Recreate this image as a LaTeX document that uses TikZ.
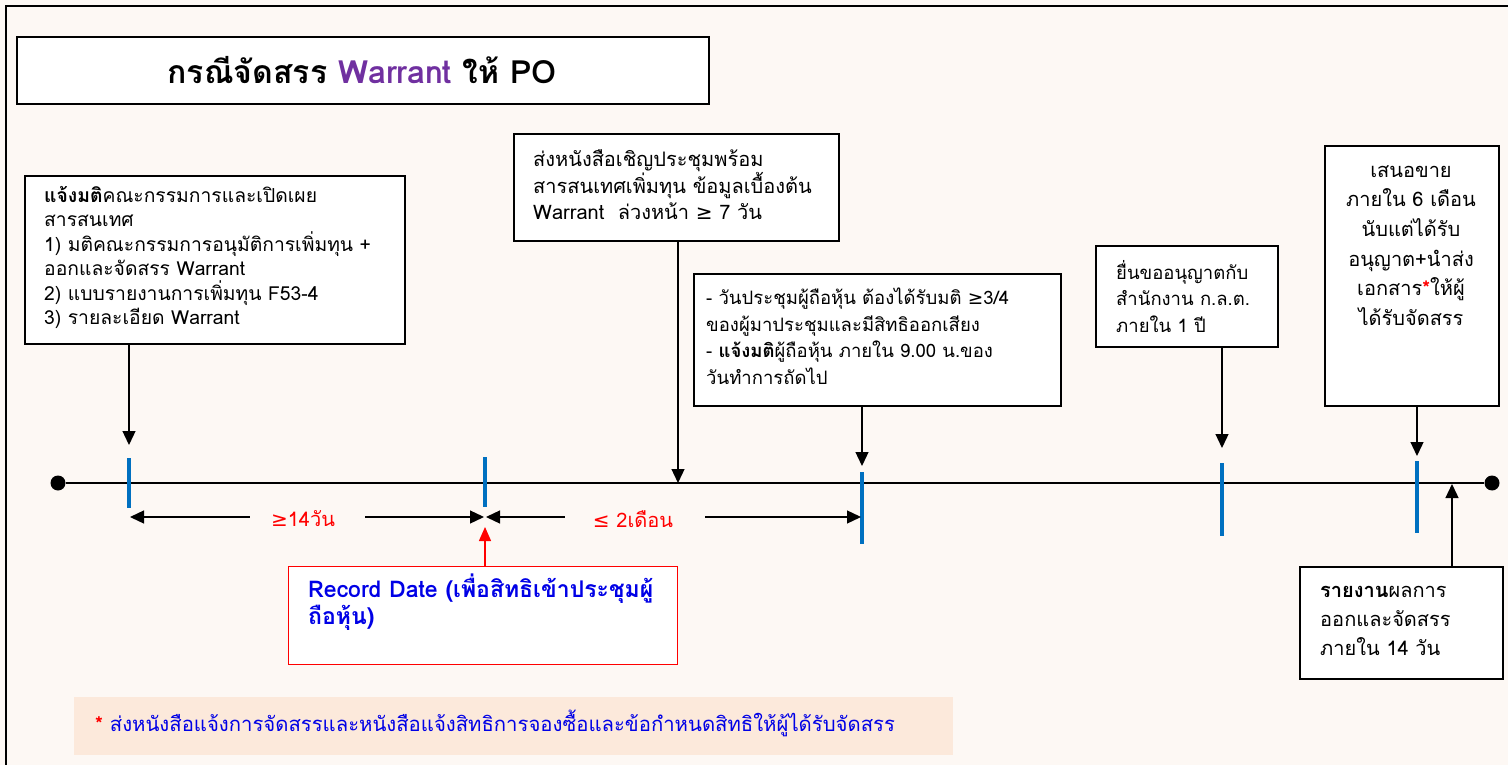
\documentclass[tikz,border=0pt]{standalone}
\usepackage{fontspec}
\setmainfont[Script=Thai]{Loma}
\newfontfamily\symf{DejaVu Sans}
\usetikzlibrary{arrows.meta}
\definecolor{bgc}{RGB}{253,248,244}
\definecolor{peach}{RGB}{252,233,219}
\definecolor{tickblue}{RGB}{0,112,192}
\definecolor{purp}{RGB}{112,48,160}
\definecolor{tblue}{RGB}{0,0,230}
\tikzset{
  box/.style={draw=black, line width=1.6pt, fill=white, anchor=north west, inner sep=0pt},
  txt/.style={anchor=north west, align=left, inner sep=0pt},
  tick/.style={draw=tickblue, line width=3.5pt},
  arr/.style={line width=1.3pt, -{Triangle[length=14pt,width=13pt]}},
  dim/.style={line width=1.3pt},
  dot/.style={circle, fill=black, minimum size=15pt, inner sep=0pt},
}
\begin{document}
\begin{tikzpicture}[x=1pt,y=-1pt]
\useasboundingbox (0,0) rectangle (1508,765);
\fill[bgc] (0,0) rectangle (1508,765);
\draw[line width=2pt] (6,780) -- (6,6) -- (1520,6);
% title
\node[box, minimum width=692pt, minimum height=67pt] (title) at (16,36) {};
\node[font=\fontsize{32}{36}\selectfont\bfseries, inner sep=0pt] (titletext) at (362,70) {กรณีจัดสรร \textcolor{purp}{Warrant} ให้ PO};
% box 1
\node[box, minimum width=380pt, minimum height=168pt] (b1) at (24,175) {};
\node[txt, font=\fontsize{19.3}{24.5}\selectfont] (t1) at (44,186) {\textbf{แจ้งมติ}คณะกรรมการและเปิดเผย\\สารสนเทศ\\1) มติคณะกรรมการอนุมัติการเพิ่มทุน +\\ออกและจัดสรร Warrant\\2) แบบรายงานการเพิ่มทุน F53-4\\3) รายละเอียด Warrant};
% box 2
\node[box, minimum width=325pt, minimum height=107pt] (b2) at (513,133) {};
\node[txt, font=\fontsize{20}{26}\selectfont] (t2) at (533,149) {ส่งหนังสือเชิญประชุมพร้อม\\สารสนเทศเพิ่มทุน ข้อมูลเบื้องต้น\\Warrant\ \ ล่วงหน้า {\symf ≥} 7 วัน};
% box 3
\node[box, minimum width=367pt, minimum height=132pt] (b3) at (693,273) {};
\node[txt, font=\fontsize{18.5}{26.5}\selectfont] (t3) at (706,288) {- วันประชุมผู้ถือหุ้น ต้องได้รับมติ {\symf ≥}3/4\\ของผู้มาประชุมและมีสิทธิออกเสียง\\- \textbf{แจ้งมติ}ผู้ถือหุ้น ภายใน 9.00 น.ของ\\วันทำการถัดไป};
% box 4
\node[box, minimum width=182pt, minimum height=101pt] (b4) at (1095,245) {};
\node[txt, font=\fontsize{18.5}{26.5}\selectfont] (t4) at (1116,260) {ยื่นขออนุญาตกับ\\สำนักงาน ก.ล.ต.\\ภายใน 1 ปี};
% box 5
\node[box, minimum width=174pt, minimum height=260pt] (b5) at (1324,145) {};
\node[txt, anchor=north, align=center, font=\fontsize{20}{29.7}\selectfont] (t5) at (1411,165) {เสนอขาย\\ภายใน 6 เดือน\\นับแต่ได้รับ\\อนุญาต+นำส่ง\\เอกสาร\textcolor{red}{\textbf{*}}ให้ผู้\\ได้รับจัดสรร};
% box 6
\node[box, minimum width=203pt, minimum height=112pt] (b6) at (1299,566) {};
\node[txt, font=\fontsize{20}{29}\selectfont] (t6) at (1320,586) {\textbf{รายงาน}ผลการ\\ออกและจัดสรร\\ภายใน 14 วัน};
% record date
\node[box, draw=red, line width=1.3pt, minimum width=389pt, minimum height=98pt] (rec) at (288,566) {};
\node[txt, text=tblue, font=\fontsize{23}{27}\selectfont\bfseries] (trec) at (308,574) {Record Date (เพื่อสิทธิเข้าประชุมผู้\\ถือหุ้น)};
% footnote
\node[anchor=north west, fill=peach, minimum width=879pt, minimum height=58pt, inner sep=0pt] (foot) at (74,697) {};
\node[anchor=west, inner sep=0pt, font=\fontsize{20.3}{22}\selectfont, text=tblue] (tfoot) at (95,723) {\textcolor{red}{\textbf{*}}\ ส่งหนังสือแจ้งการจัดสรรและหนังสือแจ้งสิทธิการจองซื้อและข้อกำหนดสิทธิให้ผู้ได้รับจัดสรร};
% timeline
\node[dot] (start) at (58,483) {};
\node[dot] (end) at (1492,483) {};
\draw[line width=1.3pt] (start) -- (end);
\coordinate (k1a) at (129,458); \coordinate (k1b) at (129,508);
\coordinate (k2a) at (485,457); \coordinate (k2b) at (485,507);
\coordinate (k3a) at (862,472); \coordinate (k3b) at (862,544);
\coordinate (k4a) at (1222,463); \coordinate (k4b) at (1222,536);
\coordinate (k5a) at (1417,461); \coordinate (k5b) at (1417,533);
\draw[tick] (k1a) -- (k1b);
\draw[tick] (k2a) -- (k2b);
\draw[tick] (k3a) -- (k3b);
\draw[tick] (k4a) -- (k4b);
\draw[tick] (k5a) -- (k5b);
% down arrows
\coordinate (a1) at (129,445);
\coordinate (a2) at (678,483);
\coordinate (a3) at (862,466);
\coordinate (a4) at (1222,448);
\coordinate (a5) at (1417,456);
\coordinate (a6) at (1452,484);
\draw[arr] (b1.south west -| a1) -- (a1);
\draw[arr] (b2.south west -| a2) -- (a2);
\draw[arr] (b3.south west -| a3) -- (a3);
\draw[arr] (b4.south west -| a4) -- (a4);
\draw[arr] (b5.south west -| a5) -- (a5);
\draw[arr] (b6.north west -| a6) -- (a6);
% dimension arrows
\node[text=red, inner sep=0pt, font=\fontsize{20}{22}\selectfont] (d1) at (303,519) {{\symf ≥}14วัน};
\node[text=red, inner sep=0pt, font=\fontsize{20}{22}\selectfont] (d2) at (633,519) {{\symf ≤} 2เดือน};
\coordinate (p1) at (130,517); \coordinate (p2) at (484,517);
\coordinate (p3) at (486,517); \coordinate (p4) at (861,517);
\draw[dim, {Triangle[length=14pt,width=13pt]}-] (p1) -- (250,517);
\draw[dim, -{Triangle[length=14pt,width=13pt]}] (365,517) -- (p2);
\draw[dim, {Triangle[length=14pt,width=13pt]}-] (p3) -- (565,517);
\draw[dim, -{Triangle[length=14pt,width=13pt]}] (705,517) -- (p4);
\coordinate (rt) at (485,527);
\draw[line width=1.3pt, draw=red, -{Triangle[length=14pt,width=12pt]}, red] (rec.north west -| rt) -- (rt);
\end{tikzpicture}
\end{document}
